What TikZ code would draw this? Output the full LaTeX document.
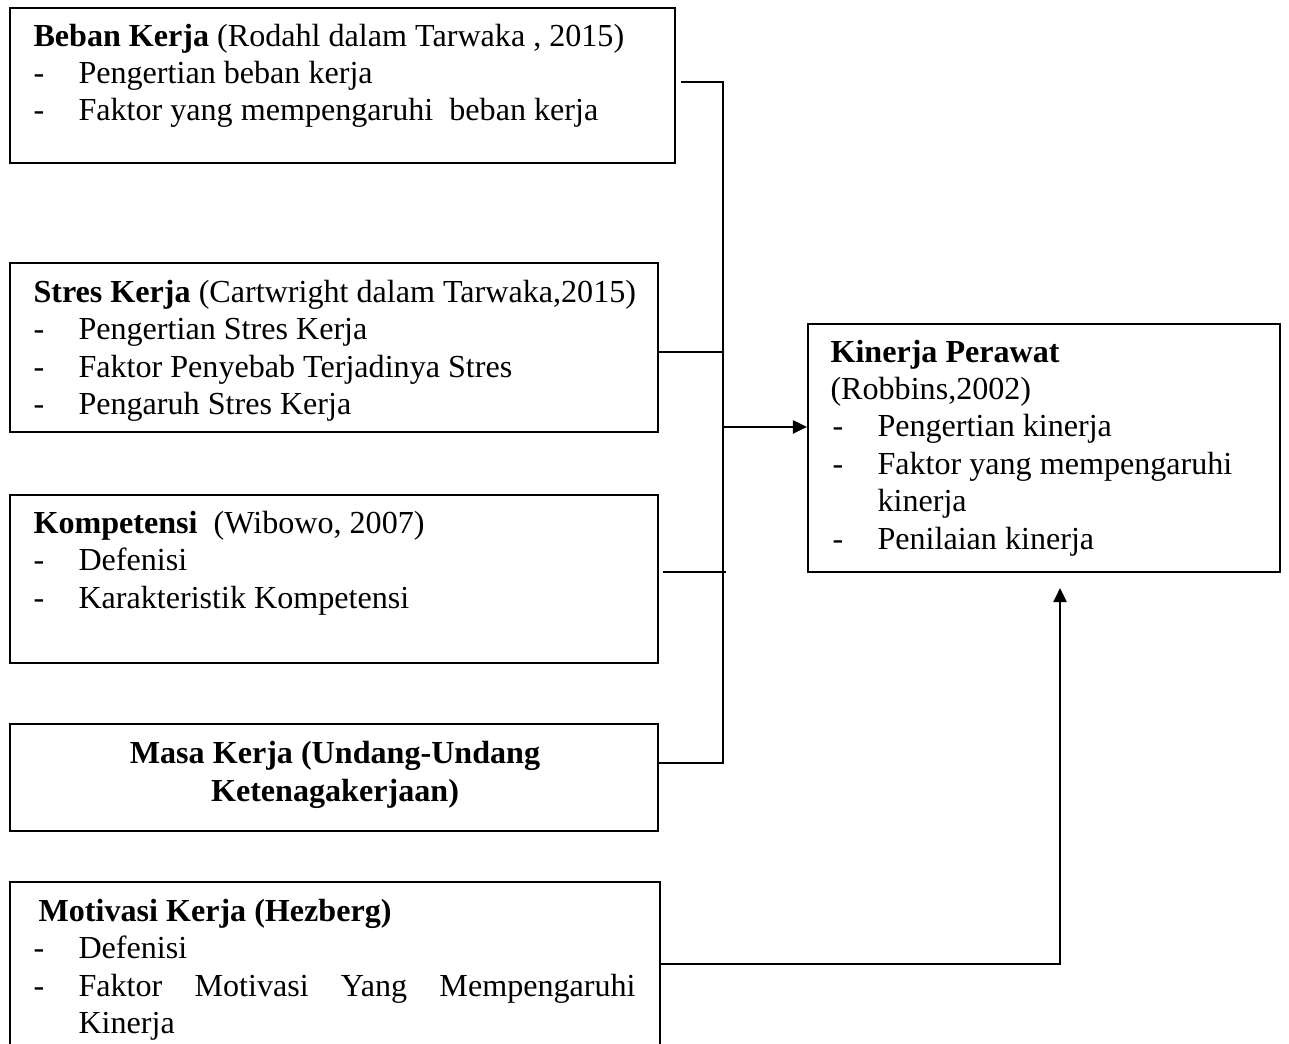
\documentclass[tikz,border=0pt]{standalone}
\usepackage{fontspec}
\setmainfont{Liberation Serif}
\usetikzlibrary{fit,calc,arrows.meta}
\newcommand{\dashitem}[1]{\makebox[17.1pt][l]{-}#1}
\begin{document}
\begin{tikzpicture}[x=0.38pt,y=-0.38pt,
  box/.style={draw,line width=0.85pt,inner sep=0pt},
  txt/.style={anchor=base west,inner sep=0pt,font=\fontsize{12.2pt}{14pt}\selectfont},
  ctxt/.style={anchor=base,inner sep=0pt,font=\fontsize{12.2pt}{14pt}\selectfont\bfseries},
  conn/.style={line width=0.85pt},
  arr/.style={line width=0.85pt,-{Triangle[length=5.3pt,width=5pt]}}]
\useasboundingbox[fill=white] (0,0) rectangle (1289,1044);

% boxes
\node[box,fit={(10,8)(675,163)}] (b1) {};
\node[box,fit={(10,263)(658,432)}] (b2) {};
\node[box,fit={(10,495)(658,663)}] (b3) {};
\node[box,fit={(10,724)(658,831)}] (b4) {};
\node[box,fit={(10,882)(660,1060)}] (b5) {};
\node[box,fit={(808,324)(1280,572)}] (k) {};

% texts box 1
\node[txt] (t11) at (33,47) {\textbf{Beban Kerja} (Rodahl dalam Tarwaka , 2015)};
\node[txt] (t12) at (33,84) {\dashitem{Pengertian beban kerja}};
\node[txt] (t13) at (33,121) {\dashitem{Faktor yang mempengaruhi~ beban kerja}};
% box 2
\node[txt] (t21) at (33,303) {\textbf{Stres Kerja} (Cartwright dalam Tarwaka,2015)};
\node[txt] (t22) at (33,340) {\dashitem{Pengertian Stres Kerja}};
\node[txt] (t23) at (33,378) {\dashitem{Faktor Penyebab Terjadinya Stres}};
\node[txt] (t24) at (33,415) {\dashitem{Pengaruh Stres Kerja}};
% box 3
\node[txt] (t31) at (33,534) {\textbf{Kompetensi}~ (Wibowo, 2007)};
\node[txt] (t32) at (33,571) {\dashitem{Defenisi}};
\node[txt] (t33) at (33,609) {\dashitem{Karakteristik Kompetensi}};
% box 4
\node[ctxt] (t41) at (335,764) {Masa Kerja (Undang-Undang};
\node[ctxt] (t42) at (335,802) {Ketenagakerjaan)};
% box 5
\node[txt] (t51) at (38,922) {\textbf{Motivasi Kerja (Hezberg)}};
\node[txt] (t52) at (33,959) {\dashitem{Defenisi}};
\node[txt] (t53) at (33,997) {\dashitem{\hbox to 211.7pt{Faktor\hfill Motivasi\hfill Yang\hfill Mempengaruhi}}};
\node[txt] (t54) at (78,1034) {Kinerja};
% Kinerja Perawat
\node[txt] (k1) at (830,363) {\textbf{Kinerja Perawat}};
\node[txt] (k2) at (830,400) {(Robbins,2002)};
\node[txt] (k3) at (832,437) {\dashitem{Pengertian kinerja}};
\node[txt] (k4) at (832,475) {\dashitem{Faktor yang mempengaruhi}};
\node[txt] (k5) at (877,512) {kinerja};
\node[txt] (k6) at (832,550) {\dashitem{Penilaian kinerja}};

% connectors
\coordinate (bx) at (723,0);
\coordinate (s1) at ($(b1.east)+(5,-3.5)$);
\coordinate (s2) at ($(b2.east)+(0,4.5)$);
\coordinate (s3) at ($(b3.east)+(4,-7)$);
\coordinate (s4) at ($(b4.east)+(0,-14.5)$);
\coordinate (kin) at ($(k.west)+(0,-21)$);
\coordinate (s5) at ($(b5.north east)+(0,83)$);
\coordinate (ku) at ($(k.south)+(16,15)$);

\draw[conn] (s1) -| (s4 -| bx) -- (s4);
\draw[conn] (s2) -- (s2 -| bx);
\draw[conn] (s3) -- ($(s3 -| bx)+(3,0)$);
\draw[arr] (kin -| bx) -- (kin);
\draw[arr] (s5) -| (ku);
\end{tikzpicture}
\end{document}
